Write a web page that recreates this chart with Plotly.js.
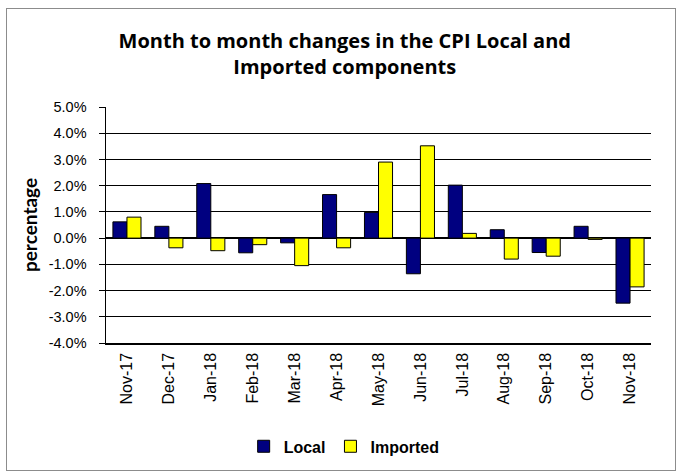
<!DOCTYPE html>
<html>
<head>
<meta charset="utf-8">
<script src="https://cdn.plot.ly/plotly-3.0.1.min.js"></script>
<style>
html,body{margin:0;padding:0;background:#fff;}
#wrap{position:absolute;left:0;top:0;width:680px;height:475px;}
#frame{position:absolute;left:6px;top:8px;width:668px;height:461px;border:1.5px solid #8c8c8c;pointer-events:none;}
#chart{position:absolute;left:0;top:0;width:680px;height:475px;}
</style>
</head>
<body>
<div id="wrap"><div id="chart"></div><div id="frame"></div></div>
<script>
const months = ["Nov-17","Dec-17","Jan-18","Feb-18","Mar-18","Apr-18","May-18","Jun-18","Jul-18","Aug-18","Sep-18","Oct-18","Nov-18"];
const localVals = [0.62, 0.45, 2.08, -0.56, -0.18, 1.66, 0.98, -1.36, 2.02, 0.32, -0.55, 0.45, -2.48];
const importedVals = [0.80, -0.37, -0.48, -0.25, -1.05, -0.37, 2.90, 3.52, 0.18, -0.80, -0.69, -0.05, -1.86];
const yTicks = [-4,-3,-2,-1,0,1,2,3,4,5];
const yTickText = yTicks.map(v => v.toFixed(1) + "%");

const traces = [
  {type:"bar", name:"Local", x:months, y:localVals,
   marker:{color:"#000080", line:{color:"#000000", width:1}}},
  {type:"bar", name:"Imported", x:months, y:importedVals,
   marker:{color:"#FFFF00", line:{color:"#000000", width:1}}}
];

const layout = {
  width:680, height:475,
  margin:{l:106, r:29, t:107, b:129},
  paper_bgcolor:"#ffffff", plot_bgcolor:"#ffffff",
  title:{text:"<b>Month to month changes in the CPI Local and<br>Imported components</b>",
         font:{family:"'Open Sans', Lato, sans-serif", size:20, color:"#000"},
         x:0.507, xanchor:"center", y:0.9, yanchor:"middle"},
  barmode:"group", bargap:0.33, bargroupgap:0,
  showlegend:true,
  legend:{orientation:"h", x:0.437, xanchor:"center", y:-0.438, yanchor:"middle",
          font:{family:"'Liberation Sans', Arial, sans-serif", size:16, color:"#000", weight:"bold"},
          itemwidth:30, tracegroupgap:0},
  xaxis:{type:"category", tickangle:-90, showline:true, linecolor:"#000", linewidth:1.5,
         showgrid:false, ticks:"", zeroline:false, ticklabelstandoff:2,
         tickfont:{family:"'Liberation Sans', Arial, sans-serif", size:16, color:"#000"}},
  yaxis:{range:[-4,5], tickvals:yTicks, ticktext:yTickText, showgrid:true, gridcolor:"#000", gridwidth:1,
         zeroline:true, zerolinecolor:"#000", zerolinewidth:1.5,
         showline:true, linecolor:"#000", linewidth:1.5, ticks:"outside", ticklen:6, tickcolor:"#000",
         ticklabelstandoff:9,
         tickfont:{family:"'Liberation Sans', Arial, sans-serif", size:14.5, color:"#000"},
         title:{text:"<b>percentage</b>", standoff:6,
                font:{family:"Lato, 'Open Sans', sans-serif", size:19, color:"#000"}}}
};

Plotly.newPlot("chart", traces, layout, {displayModeBar:false, staticPlot:true});
</script>
</body>
</html>
